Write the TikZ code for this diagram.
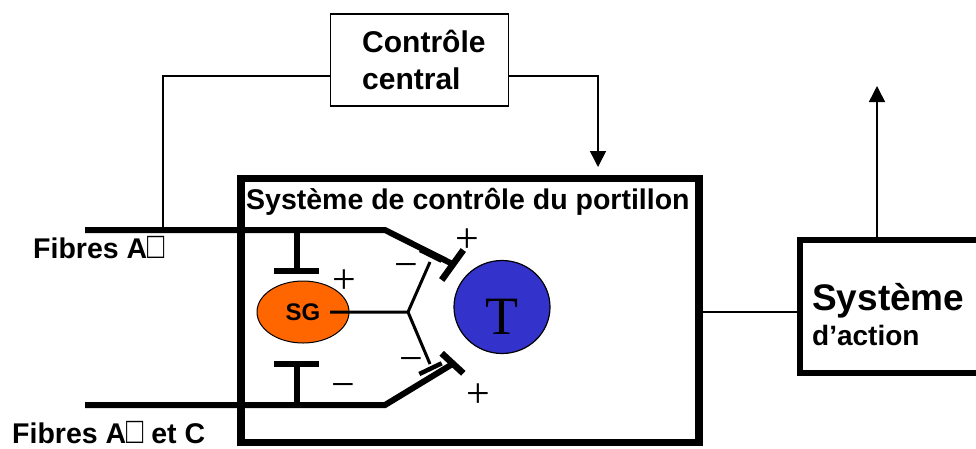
\documentclass[tikz,border=0pt]{standalone}
\usepackage{fontspec}
\usepackage{graphicx}
\setmainfont{Liberation Sans}
\newfontfamily\seriffont{Liberation Serif}
\newfontfamily\symfont{DejaVu Sans}
\usetikzlibrary{arrows.meta,shapes.geometric}
\definecolor{sgorange}{RGB}{255,102,0}
\definecolor{tblue}{RGB}{51,51,204}
\newcommand{\fs}[1]{\fontsize{#1}{#1}\selectfont}
\newcommand{\tofu}{{\mdseries\scalebox{1}[1.3]{□}}}
\tikzset{
  lbl/.style={inner sep=0pt, anchor=base west},
  pm/.style={inner sep=0pt, anchor=base, font=\seriffont\fs{42}},
  fiber/.style={line width=6pt},
  inhib/.style={line width=6.5pt},
  thinw/.style={line width=3pt},
  smallbar/.style={line width=4.5pt},
  conn/.style={line width=1.6pt},
  arr/.style={conn, -{Triangle[width=16pt,length=16pt]}},
}
\begin{document}
\begin{tikzpicture}[x=1pt,y=-1pt]
\useasboundingbox (0,0) rectangle (976,448);
% boxes
\node[draw, line width=1.6pt, minimum width=178pt, minimum height=92pt, inner sep=0pt] (ctrl) at (419.5,60) {};
\node[lbl, font=\bfseries\fs{30}] (ct1) at (362,52) {Contrôle};
\node[lbl, font=\bfseries\fs{30}] (ct2) at (362,89) {central};
\node[draw, line width=7.5pt, minimum width=458pt, minimum height=264pt, inner sep=0pt] (gate) at (470,310.5) {};
\node[lbl, font=\bfseries\fs{28.5}] (title) at (246,209) {Système de contrôle du portillon};
\node[draw, line width=6pt, minimum width=185pt, minimum height=133pt, inner sep=0pt] (action) at (892.5,306.5) {};
\node[lbl, font=\bfseries\fs{37}] (act1) at (812,310) {Système};
\node[lbl, font=\bfseries\fs{28}] (act2) at (812,345) {d’action};
% labels of fibres
\node[lbl, font=\bfseries\fs{28.5}] (fa) at (33,258) {Fibres A\tofu};
\node[lbl, font=\bfseries\fs{28.5}] (fc) at (12,443) {Fibres A\tofu{} et C};
% SG and T
\node[draw, ellipse, line width=1pt, fill=sgorange, minimum width=92pt, minimum height=62pt, inner sep=0pt, font=\bfseries\fs{24}] (sg) at (303,312) {SG};
\node[draw, ellipse, line width=1.2pt, fill=tblue, minimum width=96pt, minimum height=93pt, inner sep=0pt] (t) at (502,307) {};
\node[inner sep=0pt, font=\seriffont\fs{54}] (tl) at (501.7,317) {T};
% coordinates
\coordinate (a1) at (85,230);
\coordinate (a2) at (385,230);
\coordinate (c1) at (85,405);
\coordinate (c2) at (385,405);
\coordinate (ua) at (452.5,264);
\coordinate (la) at (452.5,364);
\coordinate (j) at (408,312);
\coordinate (ju) at (430,262);
\coordinate (jl) at (430,364);
\coordinate (tb) at (163,230);
\coordinate (ta) at (598,167);
\coordinate (tc) at (877,86);
% fibres
\draw[fiber] (a1) -- (a2) -- (ua);
\draw[fiber] (c1) -- (c2) -- (la);
\draw[inhib] (441.7,280) -- (463.3,250);
\draw[inhib] (441.7,353.3) -- (463.3,373.3);
% inhibitions on SG
\draw[inhib] (297,230) -- (297,271);
\draw[inhib] (274,271) -- (319,271);
\draw[inhib] (297,405) -- (297,364);
\draw[inhib] (274,364) -- (319,364);
% SG outputs
\draw[thinw] ([xshift=27pt]sg.center) -- (j) -- (ju);
\draw[thinw] (j) -- (jl);
\draw[smallbar] (420,250) -- (441.7,260.7);
\draw[smallbar] (419.3,374) -- (441.7,363.3);
% signs
\node[pm] (p1) at (467,252.3) {+};
\node[pm] (m1) at (406,278.9) {−};
\node[pm] (p2) at (344.3,293.9) {+};
\node[pm] (m2) at (411.7,372.6) {−};
\node[pm] (m3) at (343.3,398.9) {−};
\node[pm] (p3) at (478.3,407.3) {+};
% connectors
\draw[conn] ([yshift=-16pt]ctrl.west) -| (tb);
\draw[arr] ([yshift=-16pt]ctrl.east) -| (ta);
\draw[line width=2pt] (gate.east |- j) -- (action.west |- j);
\draw[arr] (tc |- action.north) -- (tc);
\end{tikzpicture}
\end{document}
